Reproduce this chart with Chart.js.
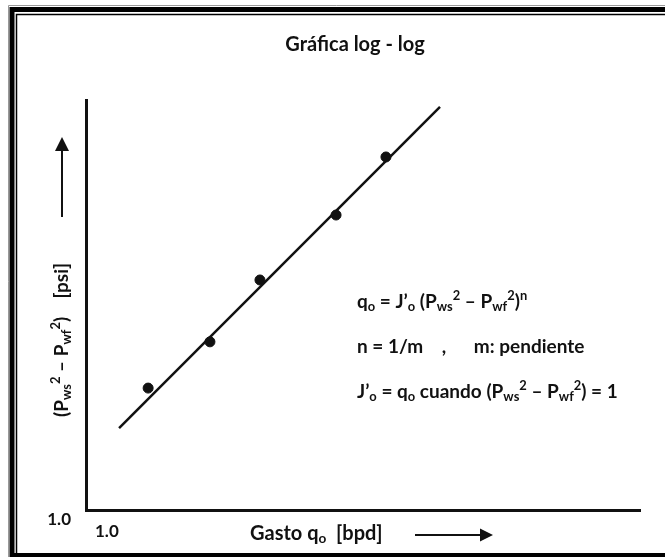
<!DOCTYPE html>
<html>
<head>
<meta charset="utf-8">
<title>Gráfica log - log</title>
<script src="https://cdn.jsdelivr.net/npm/chart.js@4.4.1/dist/chart.umd.min.js"></script>
<style>
  html, body { margin: 0; padding: 0; background: #fff; }
  #wrap { position: relative; width: 665px; height: 557px; }
</style>
</head>
<body>
<div id="wrap"><canvas id="loglog" width="665" height="557"></canvas></div>
<script>
// measured points (gasto vs. diferencia de presiones al cuadrado)
const gastoQo = [2.17, 4.69, 8.75, 22.6, 42.1];
const deltaP2 = [7.8, 17.0, 48.2, 144, 383];

// ends of the fitted straight line
const ajusteX = [1.51, 82.6];
const ajusteY = [3.98, 889];

// axis limits and the origin labels
const axisMin = 1;
const axisMaxX = 1000;
const axisMaxY = 1000;
const xTickLabels = ['1.0'];
const yTickLabels = ['1.0'];

const titulo = 'Gráfica log - log';
const FONT = 'Lato, "Open Sans", sans-serif';

function pairs(xs, ys) {
  return xs.map((x, i) => ({ x: x, y: ys[i] }));
}

// draw a run of text pieces, some of them as sub/superscripts
function richText(ctx, parts, x, y, size) {
  let cx = x;
  parts.forEach(p => {
    let s = size, dy = 0;
    if (p.sub) { s = size * 0.68; dy = size * 0.24; }
    if (p.sup) { s = size * 0.68; dy = -size * 0.34; }
    ctx.font = 'bold ' + s + 'px ' + FONT;
    ctx.fillText(p.t, cx, y + dy);
    cx += ctx.measureText(p.t).width;
  });
  return cx - x;
}

function arrow(ctx, x1, y1, x2, y2, head) {
  const a = Math.atan2(y2 - y1, x2 - x1);
  ctx.beginPath();
  ctx.moveTo(x1, y1);
  ctx.lineTo(x2 - Math.cos(a) * head, y2 - Math.sin(a) * head);
  ctx.stroke();
  ctx.beginPath();
  ctx.moveTo(x2, y2);
  ctx.lineTo(x2 - Math.cos(a) * head - Math.sin(a) * head * 0.5, y2 - Math.sin(a) * head + Math.cos(a) * head * 0.5);
  ctx.lineTo(x2 - Math.cos(a) * head + Math.sin(a) * head * 0.5, y2 - Math.sin(a) * head - Math.cos(a) * head * 0.5);
  ctx.closePath();
  ctx.fill();
}

// frame, title, axis captions and the formula block
const decorPlugin = {
  id: 'decor',
  beforeDraw(chart) {
    const ctx = chart.ctx;
    const W = chart.width, H = chart.height;
    ctx.save();
    ctx.fillStyle = '#fff';
    ctx.fillRect(0, 0, W, H);
    // double frame
    ctx.strokeStyle = '#999';
    ctx.lineWidth = 1;
    ctx.beginPath();
    ctx.moveTo(8.5, H); ctx.lineTo(8.5, 5.5); ctx.lineTo(W, 5.5);
    ctx.stroke();
    ctx.strokeStyle = '#000';
    ctx.lineWidth = 5;
    ctx.beginPath();
    ctx.moveTo(12, H); ctx.lineTo(12, 9.5); ctx.lineTo(W, 9.5);
    ctx.stroke();
    ctx.lineWidth = 1.5;
    ctx.beginPath();
    ctx.moveTo(16.5, 553); ctx.lineTo(16.5, 14.5); ctx.lineTo(W, 14.5);
    ctx.stroke();
    ctx.lineWidth = 4;
    ctx.beginPath();
    ctx.moveTo(10, 555); ctx.lineTo(W, 555);
    ctx.stroke();
    ctx.restore();
  },
  afterDraw(chart) {
    const ctx = chart.ctx;
    const xs = chart.scales.x, ys = chart.scales.y;
    const area = chart.chartArea;
    ctx.save();
    ctx.fillStyle = '#111';
    ctx.strokeStyle = '#111';
    ctx.textBaseline = 'middle';

    // title
    ctx.font = 'bold 20px ' + FONT;
    ctx.textAlign = 'center';
    ctx.fillText(titulo, 355, 45);

    // origin labels
    ctx.font = 'bold 17px ' + FONT;
    ctx.textAlign = 'right';
    ctx.fillText(yTickLabels[0], area.left - 15, ys.getPixelForValue(axisMin) + 10);
    ctx.textAlign = 'left';
    ctx.fillText(xTickLabels[0], xs.getPixelForValue(axisMin) + 9, area.bottom + 22);

    // x axis caption
    richText(ctx, [{ t: 'Gasto q' }, { t: 'o', sub: true }, { t: '  [bpd]' }], 250, 534, 20);
    ctx.lineWidth = 2;
    arrow(ctx, 415, 535, 493, 535, 13);

    // y axis caption, rotated
    ctx.save();
    ctx.translate(62, 332);
    ctx.rotate(-Math.PI / 2);
    richText(ctx, [
      { t: '(P' }, { t: 'ws', sub: true }, { t: '2', sup: true }, { t: ' \u2013 P' },
      { t: 'wf', sub: true }, { t: '2', sup: true }, { t: ')    [psi]' }
    ], -85, 0, 19);
    ctx.restore();
    ctx.lineWidth = 2;
    arrow(ctx, 62, 217, 62, 137, 14);

    // formula block
    const fx = 357, fs = 19;
    richText(ctx, [
      { t: 'q' }, { t: 'o', sub: true }, { t: ' = J\u2019' }, { t: 'o', sub: true }, { t: ' (P' },
      { t: 'ws', sub: true }, { t: '2', sup: true }, { t: ' \u2013 P' }, { t: 'wf', sub: true },
      { t: '2', sup: true }, { t: ')' }, { t: 'n', sup: true }
    ], fx, 302, fs);
    richText(ctx, [{ t: 'n = 1/m    ,      m: pendiente' }], fx, 347, fs);
    richText(ctx, [
      { t: 'J\u2019' }, { t: 'o', sub: true }, { t: ' = q' }, { t: 'o', sub: true }, { t: ' cuando (P' },
      { t: 'ws', sub: true }, { t: '2', sup: true }, { t: ' \u2013 P' }, { t: 'wf', sub: true },
      { t: '2', sup: true }, { t: ') = 1' }
    ], fx, 392, fs);
    ctx.restore();
  }
};

const chart = new Chart(document.getElementById('loglog'), {
  type: 'scatter',
  data: {
    datasets: [
      {
        label: 'ajuste',
        data: pairs(ajusteX, ajusteY),
        showLine: true,
        borderColor: '#111',
        borderWidth: 2.5,
        pointRadius: 0,
        order: 2
      },
      {
        label: 'datos',
        data: pairs(gastoQo, deltaP2),
        backgroundColor: '#111',
        borderColor: '#111',
        pointRadius: 5,
        order: 1
      }
    ]
  },
  options: {
    responsive: false,
    animation: false,
    layout: { padding: { left: 86, right: 25, top: 100, bottom: 47 } },
    plugins: {
      legend: { display: false },
      tooltip: { enabled: false }
    },
    scales: {
      x: {
        type: 'logarithmic',
        min: axisMin,
        max: axisMaxX,
        grid: { display: false, drawTicks: false },
        ticks: { display: false },
        border: { display: true, color: '#111', width: 3 }
      },
      y: {
        type: 'logarithmic',
        min: axisMin,
        max: axisMaxY,
        grid: { display: false, drawTicks: false },
        ticks: { display: false },
        border: { display: true, color: '#111', width: 3 }
      }
    }
  },
  plugins: [decorPlugin]
});
</script>
</body>
</html>
